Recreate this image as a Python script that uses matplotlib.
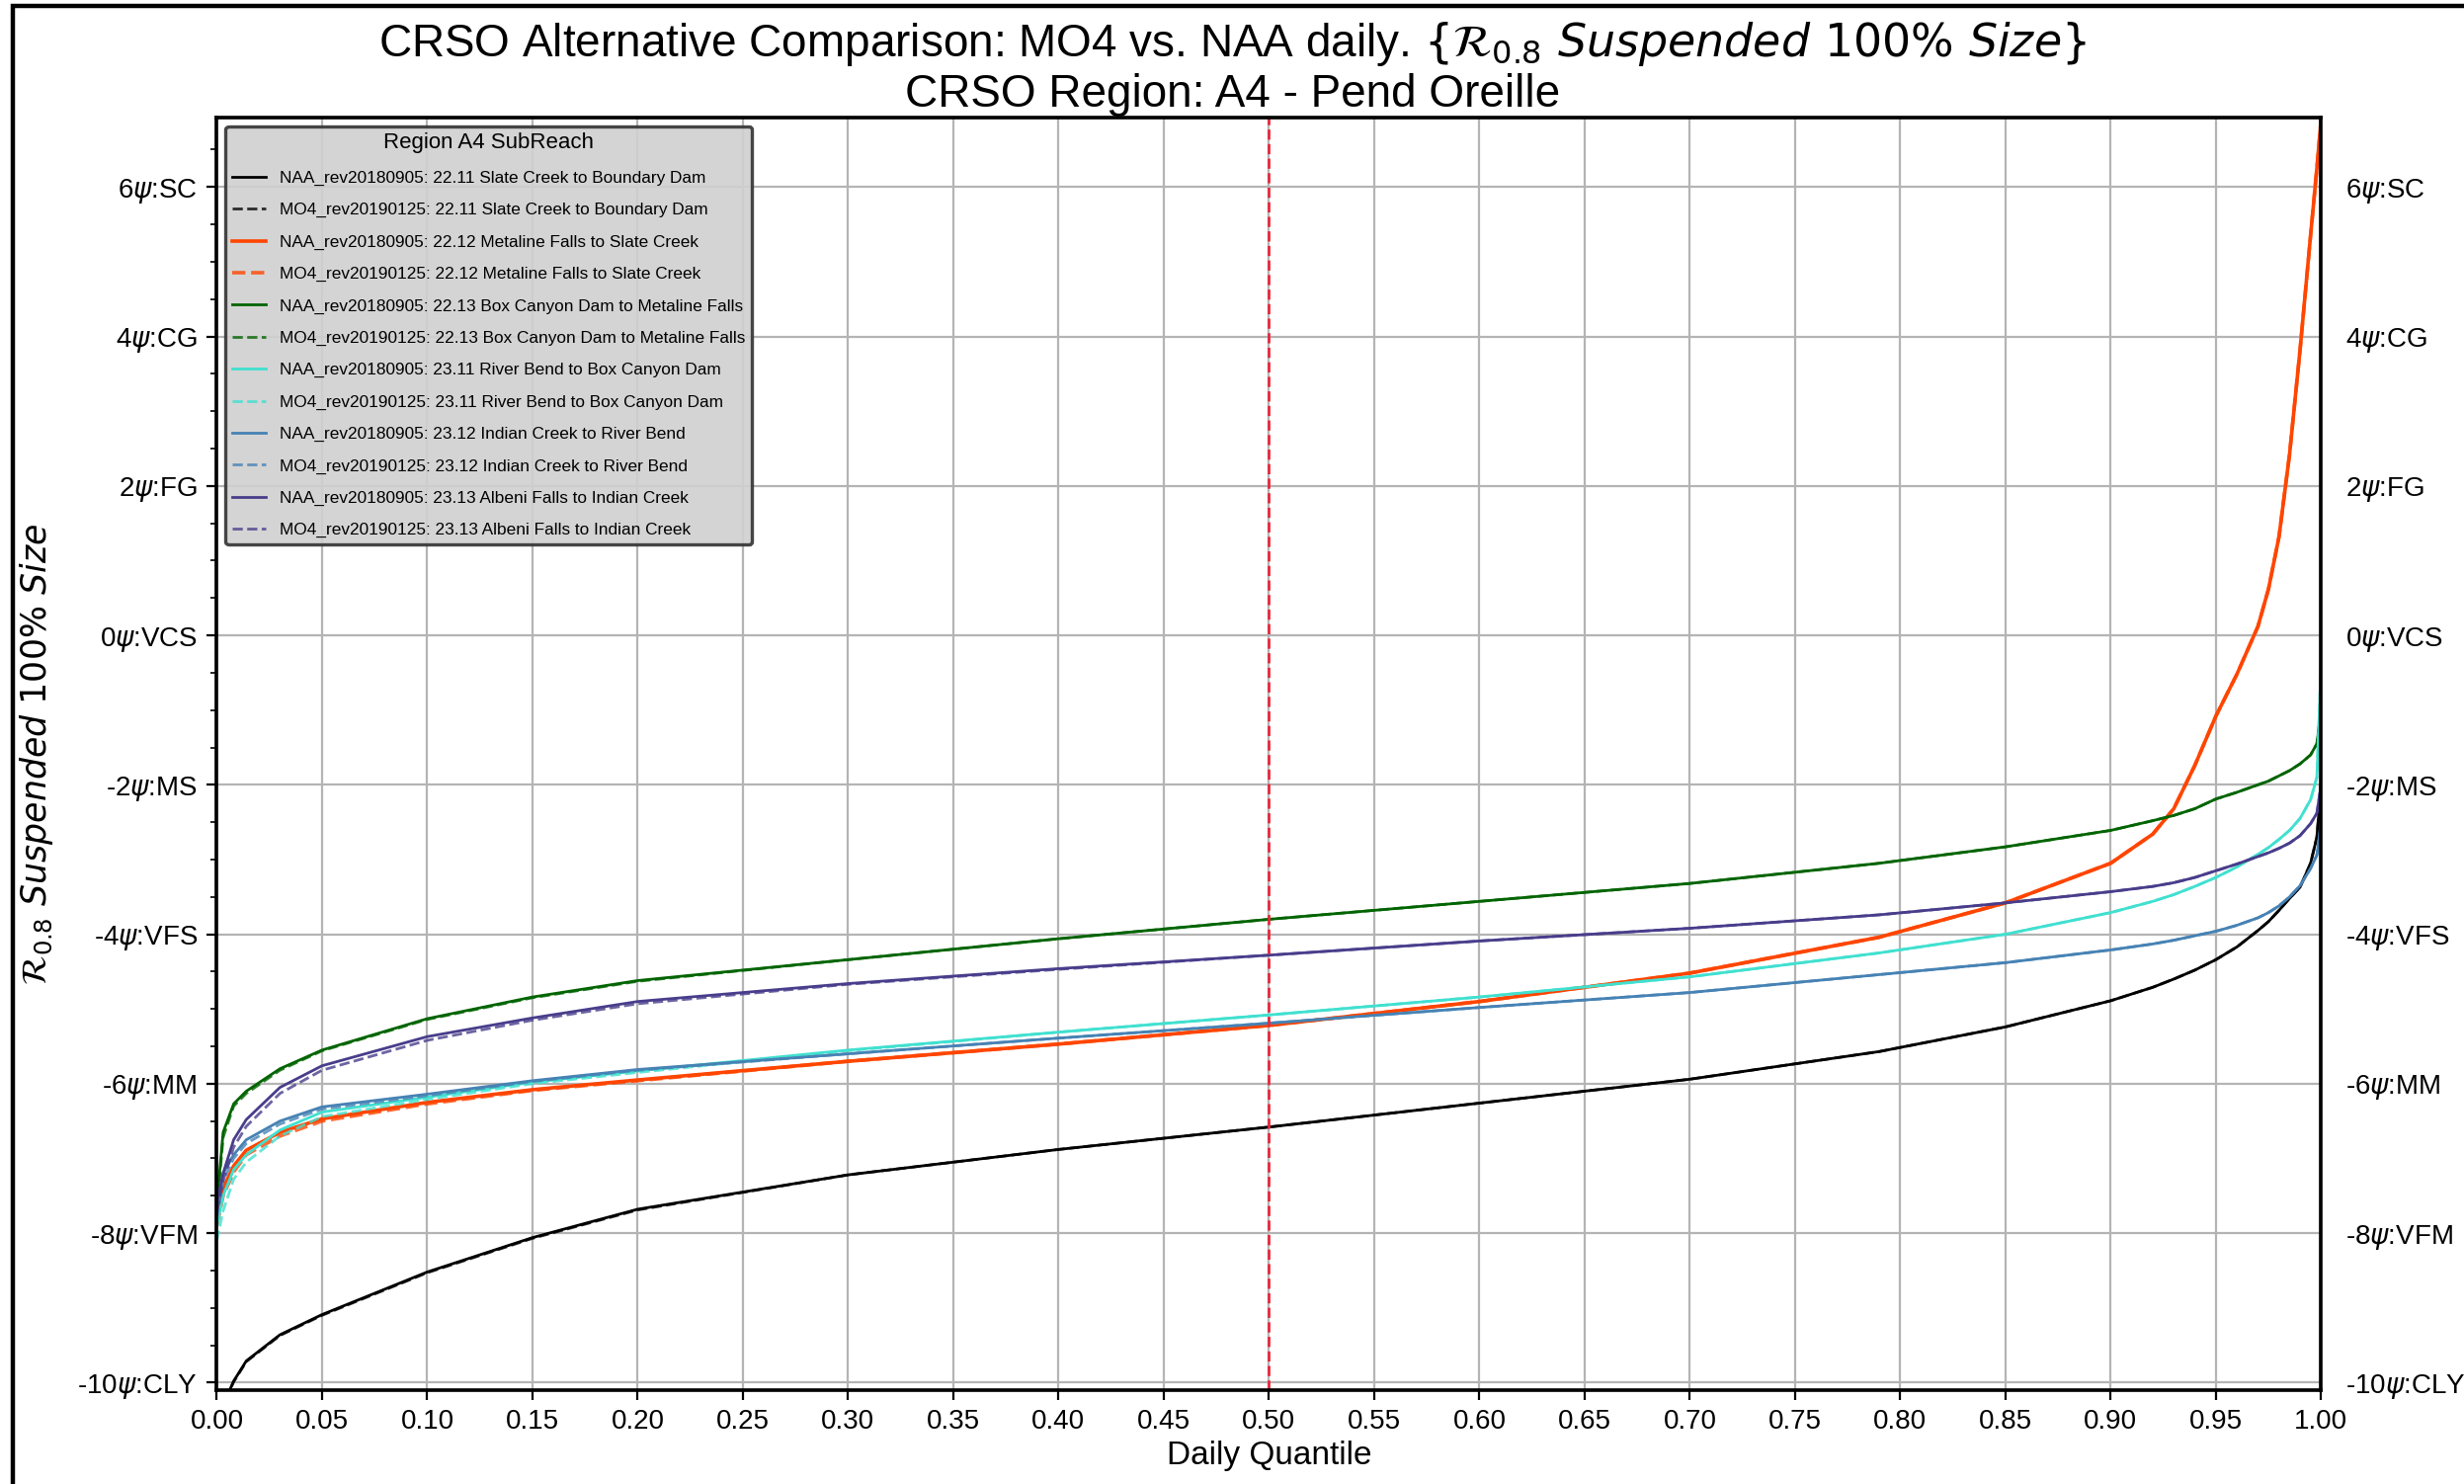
import numpy as np
import matplotlib
matplotlib.use('Agg')
import matplotlib.pyplot as plt
from matplotlib.patches import Rectangle

plt.rcParams['font.family'] = ['Liberation Sans', 'DejaVu Sans']
plt.rcParams['mathtext.fontset'] = 'dejavusans'

# daily quantile positions the curves were read at
quantile = [0.0, 0.003, 0.008, 0.014, 0.03, 0.05, 0.1, 0.15, 0.2, 0.3, 0.4, 0.5, 0.6, 0.7,
            0.79, 0.85, 0.9, 0.92, 0.93, 0.94, 0.95, 0.96, 0.97, 0.975, 0.98, 0.985, 0.99,
            0.995, 0.998, 1.0]

# NAA_rev20180905
naa_2211 = [-10.6, -10.3, -9.98, -9.71, -9.36, -9.09, -8.52, -8.06, -7.68, -7.22, -6.88, -6.58, -6.26, -5.94,
            -5.57, -5.24, -4.89, -4.71, -4.60, -4.48, -4.34, -4.17, -3.95, -3.83, -3.68, -3.52, -3.37,
            -3.05, -2.70, -2.00]
naa_2212 = [-7.8, -7.4, -7.1, -6.89, -6.65, -6.47, -6.25, -6.08, -5.95, -5.70, -5.47, -5.22, -4.90, -4.52,
            -4.04, -3.58, -3.05, -2.66, -2.32, -1.74, -1.08, -0.52, 0.12, 0.62, 1.32, 2.42, 3.82,
            5.35, 6.25, 6.90]
naa_2213 = [-7.6, -6.65, -6.27, -6.10, -5.80, -5.55, -5.13, -4.84, -4.62, -4.34, -4.06, -3.80, -3.56, -3.32,
            -3.05, -2.83, -2.61, -2.48, -2.41, -2.32, -2.19, -2.10, -2.00, -1.95, -1.88, -1.81, -1.72,
            -1.60, -1.45, -1.00]
naa_2311 = [-7.9, -7.5, -7.15, -6.95, -6.62, -6.38, -6.18, -5.98, -5.83, -5.55, -5.31, -5.08, -4.84, -4.57,
            -4.25, -4.00, -3.71, -3.56, -3.47, -3.36, -3.24, -3.10, -2.93, -2.84, -2.73, -2.61, -2.45,
            -2.20, -1.90, -0.40]
naa_2312 = [-7.7, -7.2, -6.95, -6.75, -6.50, -6.31, -6.14, -5.96, -5.81, -5.60, -5.39, -5.19, -4.98, -4.78,
            -4.54, -4.38, -4.21, -4.13, -4.08, -4.02, -3.96, -3.88, -3.78, -3.71, -3.62, -3.50, -3.35,
            -3.12, -2.94, -2.50]
naa_2313 = [-7.6, -7.2, -6.75, -6.48, -6.05, -5.76, -5.37, -5.12, -4.90, -4.66, -4.46, -4.28, -4.09, -3.92,
            -3.74, -3.58, -3.43, -3.36, -3.31, -3.24, -3.15, -3.06, -2.96, -2.91, -2.85, -2.78, -2.68,
            -2.52, -2.38, -2.00]

# MO4_rev20190125
mo4_2211 = [-10.6, -10.3, -9.99, -9.72, -9.37, -9.10, -8.53, -8.07, -7.69, -7.22, -6.88, -6.58, -6.26, -5.94,
            -5.57, -5.24, -4.89, -4.71, -4.60, -4.48, -4.34, -4.17, -3.95, -3.83, -3.68, -3.52, -3.37,
            -3.05, -2.70, -2.00]
mo4_2212 = [-7.9, -7.5, -7.18, -6.95, -6.70, -6.50, -6.27, -6.09, -5.96, -5.70, -5.47, -5.22, -4.90, -4.52,
            -4.04, -3.58, -3.05, -2.66, -2.32, -1.74, -1.08, -0.52, 0.12, 0.62, 1.32, 2.42, 3.82,
            5.35, 6.25, 6.90]
mo4_2213 = [-7.7, -6.72, -6.30, -6.13, -5.82, -5.56, -5.14, -4.85, -4.63, -4.34, -4.06, -3.80, -3.56, -3.32,
            -3.05, -2.83, -2.61, -2.48, -2.41, -2.32, -2.19, -2.10, -2.00, -1.95, -1.88, -1.81, -1.72,
            -1.60, -1.45, -1.00]
mo4_2311 = [-8.1, -7.7, -7.28, -7.05, -6.70, -6.44, -6.21, -6.00, -5.85, -5.56, -5.31, -5.08, -4.84, -4.57,
            -4.25, -4.00, -3.71, -3.56, -3.47, -3.36, -3.24, -3.10, -2.93, -2.84, -2.73, -2.61, -2.45,
            -2.20, -1.90, -0.40]
mo4_2312 = [-7.8, -7.3, -7.00, -6.80, -6.54, -6.34, -6.16, -5.97, -5.82, -5.60, -5.39, -5.19, -4.98, -4.78,
            -4.54, -4.38, -4.21, -4.13, -4.08, -4.02, -3.96, -3.88, -3.78, -3.71, -3.62, -3.50, -3.35,
            -3.12, -2.94, -2.50]
mo4_2313 = [-7.7, -7.3, -6.85, -6.57, -6.13, -5.82, -5.42, -5.15, -4.93, -4.67, -4.47, -4.28, -4.09, -3.92,
            -3.74, -3.58, -3.43, -3.36, -3.31, -3.24, -3.15, -3.06, -2.96, -2.91, -2.85, -2.78, -2.68,
            -2.52, -2.38, -2.00]

reaches = ['22.11 Slate Creek to Boundary Dam', '22.12 Metaline Falls to Slate Creek',
           '22.13 Box Canyon Dam to Metaline Falls', '23.11 River Bend to Box Canyon Dam',
           '23.12 Indian Creek to River Bend', '23.13 Albeni Falls to Indian Creek']
reach_colors = ['black', 'orangered', 'darkgreen', 'turquoise', 'steelblue', 'darkslateblue']
naa_series = [naa_2211, naa_2212, naa_2213, naa_2311, naa_2312, naa_2313]
mo4_series = [mo4_2211, mo4_2212, mo4_2213, mo4_2311, mo4_2312, mo4_2313]

ytick_vals = [6, 4, 2, 0, -2, -4, -6, -8, -10]
ytick_labels = [r'6$\psi$:SC', r'4$\psi$:CG', r'2$\psi$:FG', r'0$\psi$:VCS', r'-2$\psi$:MS',
                r'-4$\psi$:VFS', r'-6$\psi$:MM', r'-8$\psi$:VFM', r'-10$\psi$:CLY']
xtick_vals = [i * 0.05 for i in range(21)]
xtick_labels = ['%.2f' % v for v in xtick_vals]

fig = plt.figure(figsize=(12.47, 7.51), dpi=200)
ax = fig.add_axes([0.088, 0.0633, 0.854, 0.8575])

for name, col, naa, mo4 in zip(reaches, reach_colors, naa_series, mo4_series):
    lw = 1.3 if col == 'orangered' else 1.0
    ax.plot(quantile, naa, color=col, lw=lw, label='NAA_rev20180905: ' + name)
    ax.plot(quantile, mo4, color=col, lw=lw, ls='--', alpha=0.8, label='MO4_rev20190125: ' + name)

ax.axvline(0.5, color='#e8283c', ls='--', lw=1.0)

ax.set_xlim(0, 1)
ax.set_ylim(-10.1, 6.93)
ax.set_xticks(xtick_vals)
ax.set_xticklabels(xtick_labels, fontsize=10)
ax.set_yticks(ytick_vals)
ax.set_yticklabels(ytick_labels, fontsize=10)
ax.set_yticks(np.arange(-10, 7, 0.5), minor=True)
ax.grid(True, which='major', color='#b4b4b4', lw=0.8)
for s in ax.spines.values():
    s.set_linewidth(1.3)

ax2 = ax.twinx()
ax2.set_ylim(ax.get_ylim())
ax2.set_yticks(ytick_vals)
ax2.set_yticklabels(ytick_labels, fontsize=10)
ax2.tick_params(axis='y', length=0, pad=9)

ax.set_xlabel('Daily Quantile', fontsize=12, labelpad=2)
ax.set_ylabel(r'$\mathcal{R}_{0.8}\ Suspended\ 100\%\ Size$', fontsize=12.5, labelpad=8)
# title is centred on the figure, not on the axes
ax.set_title('CRSO Alternative Comparison: MO4 vs. NAA daily. '
             r'$\{\mathcal{R}_{0.8}\ Suspended\ 100\%\ Size\}$' + '\nCRSO Region: A4 - Pend Oreille',
             fontsize=16.5, pad=4, linespacing=1.15, x=0.4825)

leg = ax.legend(loc='upper left', fontsize=6.2, title='Region A4 SubReach', title_fontsize=8,
                facecolor='#d0d0d0', edgecolor='#333333', framealpha=0.9, labelspacing=1.0)
leg.get_frame().set_linewidth(1.2)

fig.patches.append(Rectangle((0.0052, -0.1), 1.2, 1.096, transform=fig.transFigure,
                             fill=False, edgecolor='black', lw=1.6))

fig.savefig('out.png', dpi=200)
